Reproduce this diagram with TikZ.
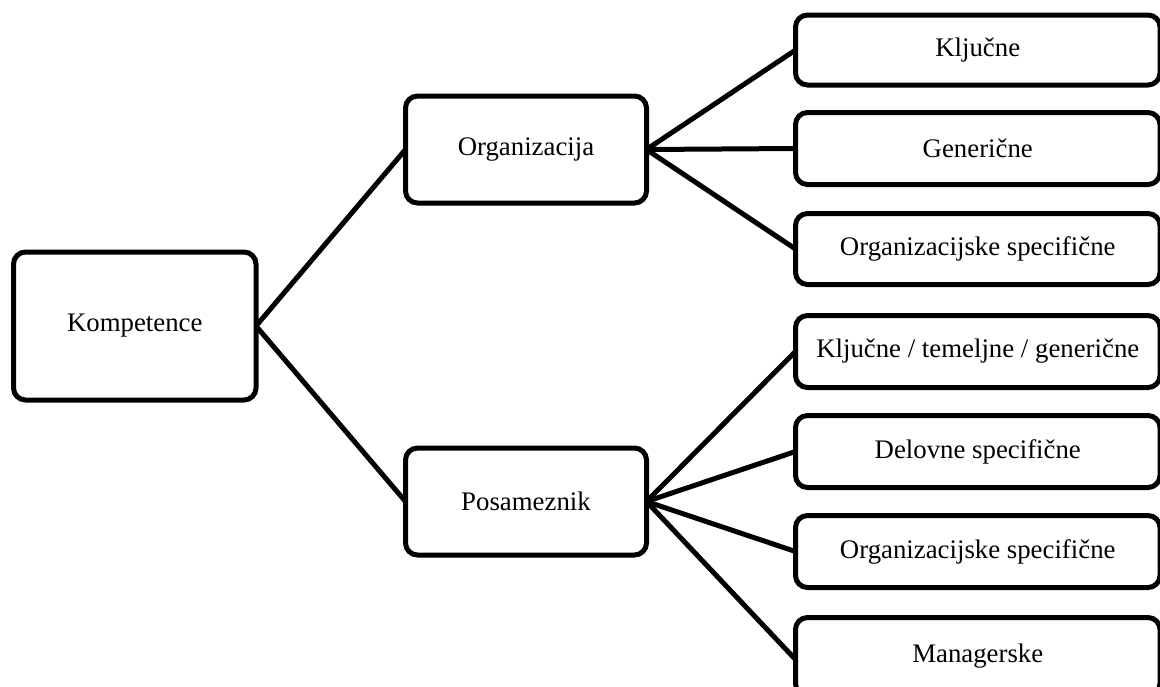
\documentclass[tikz,border=0pt]{standalone}
\usepackage{fontspec}
\setmainfont{Liberation Serif}
\begin{document}
\begin{tikzpicture}[x=1pt,y=-1pt,
  box/.style={draw=black,line width=5pt,rounded corners=12pt,fill=white,outer sep=0pt,
    inner sep=0pt,align=center,font=\fontsize{26.8}{32}\selectfont},
  rbox/.style={box,minimum width=364.5pt,minimum height=72pt},
  link/.style={line width=5pt,draw=black}]
\useasboundingbox (0,0) rectangle (1160,686);
\node[box,minimum width=242.5pt,minimum height=148pt] (k) at (134.75,326) {Kompetence};
\node[box,minimum width=241pt,minimum height=107pt] (o) at (526,149.5) {Organizacija};
\node[box,minimum width=241pt,minimum height=107pt] (p) at (526,501.5) {Posameznik};
\node[rbox,minimum height=70pt] (o1) at (977.75,50) {Ključne};
\node[rbox] (o2) at (977.75,148.5) {Generične};
\node[rbox,minimum height=71pt] (o3) at (977.75,249) {Organizacijske specifične};
\node[rbox] (p1) at (977.75,351.5) {Ključne / temeljne / generične};
\node[rbox] (p2) at (977.75,451.5) {Delovne specifične};
\node[rbox] (p3) at (977.75,551.5) {Organizacijske specifične};
\node[rbox,minimum height=78pt] (p4) at (977.75,656.5) {Managerske};
\draw[link] (k.east) -- (o.west);
\draw[link] (k.east) -- (p.west);
\foreach \t in {o1,o2,o3} \draw[link] (o.east) -- (\t.west);
\foreach \t in {p1,p2,p3} \draw[link] (p.east) -- (\t.west);
\draw[link] (p.east) -- ([yshift=-3pt]p4.west);
\end{tikzpicture}
\end{document}
